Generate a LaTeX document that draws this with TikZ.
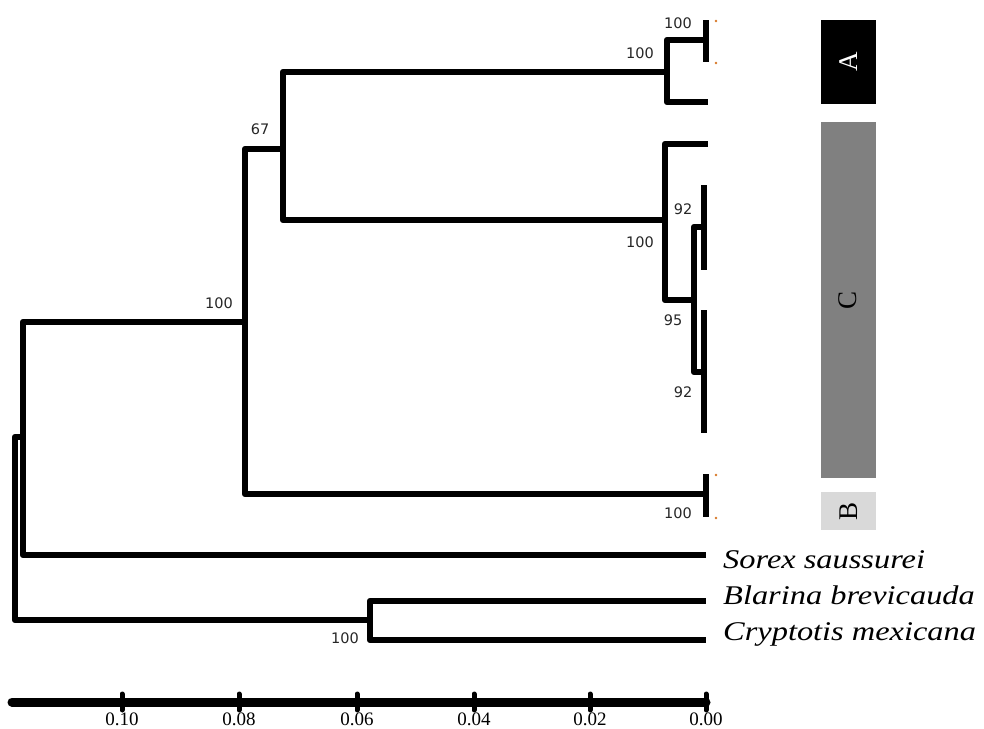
\documentclass[tikz,border=0pt]{standalone}
\usepackage{fontspec}
\setmainfont{Liberation Serif}
\newfontfamily\bsfont{DejaVu Sans}
\newfontfamily\spfont[FakeStretch=1.2]{Liberation Serif}
\definecolor{cladeC}{RGB}{128,128,128}
\definecolor{cladeB}{RGB}{217,217,217}
\definecolor{tipdot}{RGB}{215,120,40}

\begin{document}
\begin{tikzpicture}[x=1pt,y=-1pt,
  branch/.style={line width=6.5pt,line join=round},
  boot/.style={font=\bsfont\fontsize{14.5}{14.5}\selectfont,inner sep=0pt,text=black!85},
  species/.style={font=\spfont\itshape\fontsize{27}{27}\selectfont,inner sep=0pt,anchor=base west},
  clade/.style={rotate=90,inner sep=0pt,minimum height=55pt,font=\fontsize{27}{27}\selectfont},
  scalelab/.style={font=\fontsize{19}{19}\selectfont,inner sep=0pt}]
  \useasboundingbox (0,0) rectangle (984,728);
  % internal nodes
  \coordinate (root) at (15,530);
  \coordinate (n1) at (23,437);
  \coordinate (n2) at (245,322);
  \coordinate (n3) at (283,149);
  \coordinate (na) at (667,72);
  \coordinate (na2) at (706,40);
  \coordinate (nc) at (665,220);
  \coordinate (nc2) at (694,300);
  \coordinate (nc3) at (704,227);
  \coordinate (nc4) at (704,372);
  \coordinate (nb) at (706,494);
  \coordinate (n4) at (370,620);
  % tips
  \coordinate (a1) at (706,20);
  \coordinate (a2) at (706,62);
  \coordinate (a3) at (708,102);
  \coordinate (c1) at (708,144);
  \coordinate (c2) at (704,185);
  \coordinate (c3) at (704,270);
  \coordinate (c4) at (704,310);
  \coordinate (c5) at (704,433);
  \coordinate (b1) at (706,474);
  \coordinate (b2) at (706,517);
  \coordinate (sorex) at (706,555);
  \coordinate (blarina) at (706,601);
  \coordinate (cryptotis) at (706,640);

  \foreach \p/\c in {root/n1,root/n4,n1/n2,n1/sorex,n2/n3,n2/nb,n3/na,n3/nc,
    na/na2,na/a3,na2/a1,na2/a2,nc/c1,nc/nc2,nc2/nc3,nc2/nc4,nc3/c2,nc3/c3,
    nc4/c4,nc4/c5,nb/b1,nb/b2,n4/blarina,n4/cryptotis}
    \draw[branch] (\p) |- (\c);

  \foreach \t in {a1,a2,b1,b2}
    \fill[tipdot] ([xshift=10pt,yshift=-1pt]\t) circle (1.4pt);

  % bootstrap values
  \foreach \n/\x/\y/\v in {bsa2/678/23/100,bsa/640/53/100,bs3/260/129/67,
    bs2/219/303/100,bsc3/683/209/92,bsc/640/242/100,bsc2/673/320/95,
    bsc4/683/392/92,bsb/678/513/100,bs4/345/638/100}
    \node[boot] (\n) at (\x,\y) {\v};

  \node[species] (sorexlab) at (723,568) {Sorex saussurei};
  \node[species] (blarinalab) at (723,604) {Blarina brevicauda};
  \node[species] (cryptotislab) at (723,640) {Cryptotis mexicana};

  % clade bars
  \node[clade,fill=black,text=white,minimum width=84pt] (cladeA) at (848.5,62) {A};
  \node[clade,fill=cladeC,minimum width=356pt] (cladeC) at (848,300) {C};
  \node[clade,fill=cladeB,minimum width=38pt] (cladeB) at (848.5,511) {B};

  % scale bar
  \coordinate (sbl) at (12,702);
  \coordinate (sbr) at (706,702);
  \draw[line width=9pt,line cap=round] (sbl) -- (sbr);
  \foreach \x/\y in {122/0.10,239/0.08,357/0.06,474/0.04,590/0.02,706/0.00}
  {
    \draw[line width=5pt,line cap=round] (\x,694) -- (\x,710);
    \node[scalelab] (tick\x) at (\x,719) {\y};
  }
\end{tikzpicture}
\end{document}
